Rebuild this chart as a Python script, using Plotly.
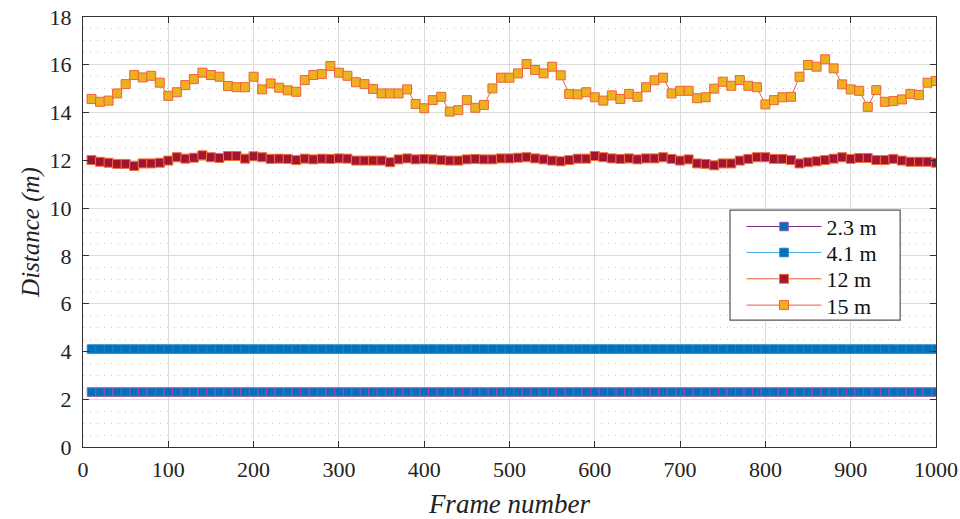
import plotly.graph_objects as go

frames = list(range(10, 1001, 10))

d_2_3 = [2.3] * 100
d_4_1 = [4.1] * 100

d_12 = [12.01, 11.94, 11.90, 11.85, 11.85, 11.76, 11.87, 11.87, 11.90, 11.99,
        12.13, 12.07, 12.11, 12.21, 12.13, 12.10, 12.18, 12.18, 12.07, 12.17,
        12.13, 12.06, 12.07, 12.06, 12.01, 12.07, 12.04, 12.07, 12.06, 12.08,
        12.07, 11.99, 11.99, 11.99, 11.99, 11.92, 12.04, 12.08, 12.04, 12.06,
        12.04, 12.01, 11.99, 11.99, 12.04, 12.06, 12.04, 12.04, 12.08, 12.08,
        12.11, 12.13, 12.08, 12.04, 11.99, 11.96, 12.01, 12.07, 12.07, 12.18,
        12.13, 12.08, 12.06, 12.08, 12.04, 12.08, 12.08, 12.13, 12.06, 11.99,
        12.04, 11.87, 11.85, 11.79, 11.87, 11.87, 11.99, 12.06, 12.13, 12.13,
        12.06, 12.06, 12.01, 11.87, 11.92, 11.96, 12.01, 12.07, 12.13, 12.06,
        12.10, 12.10, 12.01, 12.01, 12.06, 11.99, 11.94, 11.94, 11.94, 11.90]

d_15 = [14.57, 14.45, 14.50, 14.80, 15.19, 15.57, 15.47, 15.54, 15.25, 14.70,
        14.85, 15.15, 15.40, 15.67, 15.57, 15.50, 15.11, 15.06, 15.06, 15.50,
        14.97, 15.22, 15.04, 14.93, 14.87, 15.36, 15.57, 15.61, 15.95, 15.67,
        15.54, 15.27, 15.19, 14.99, 14.80, 14.80, 14.80, 14.97, 14.36, 14.18,
        14.52, 14.66, 14.04, 14.10, 14.52, 14.20, 14.32, 15.01, 15.46, 15.46,
        15.64, 16.03, 15.78, 15.64, 15.92, 15.56, 14.78, 14.76, 14.85, 14.64,
        14.50, 14.72, 14.57, 14.78, 14.66, 15.06, 15.35, 15.46, 14.80, 14.91,
        14.91, 14.60, 14.64, 15.00, 15.29, 15.12, 15.36, 15.12, 15.06, 14.34,
        14.52, 14.64, 14.66, 15.50, 15.99, 15.92, 16.23, 15.85, 15.18, 14.97,
        14.91, 14.24, 14.94, 14.45, 14.48, 14.55, 14.78, 14.74, 15.25, 15.32]

series_names = ["2.3 m", "4.1 m", "12 m", "15 m"]
x_ticks = [0, 100, 200, 300, 400, 500, 600, 700, 800, 900, 1000]
y_ticks = [0, 2, 4, 6, 8, 10, 12, 14, 16, 18]

FONT = "Liberation Serif, Times New Roman, serif"

fig = go.Figure()
fig.add_trace(go.Scatter(
    x=frames, y=d_2_3, name=series_names[0], mode="lines+markers", legend="legend",
    line=dict(color="#7E2F8E", width=1),
    marker=dict(symbol="square", size=8.5, color="#0072BD",
                line=dict(color="#9A4FB0", width=1))))
fig.add_trace(go.Scatter(
    x=frames, y=d_4_1, name=series_names[1], mode="lines+markers", legend="legend2",
    line=dict(color="#4DAEEE", width=1),
    marker=dict(symbol="square", size=8.5, color="#0072BD",
                line=dict(color="#1A80C8", width=1))))
fig.add_trace(go.Scatter(
    x=frames, y=d_12, name=series_names[2], mode="lines+markers", legend="legend3",
    line=dict(color="#E8603A", width=1),
    marker=dict(symbol="square", size=9, color="#A2142F",
                line=dict(color="#F0703A", width=1))))
fig.add_trace(go.Scatter(
    x=frames, y=d_15, name=series_names[3], mode="lines+markers", legend="legend4",
    line=dict(color="#E8603A", width=1),
    marker=dict(symbol="square", size=9, color="#EDB120",
                line=dict(color="#F0603A", width=1))))

leg_common = dict(xanchor="left", yanchor="middle", bgcolor="rgba(0,0,0,0)",
                  borderwidth=0, font=dict(family=FONT, size=22, color="#111"),
                  itemwidth=75)
leg_x = 0.772
leg_rows = [0.5123, 0.4519, 0.3907, 0.3295]

fig.update_layout(
    width=960, height=519,
    margin=dict(l=83, r=24, t=17, b=72),
    paper_bgcolor="white", plot_bgcolor="white",
    font=dict(family=FONT, size=20, color="#222"),
    showlegend=True,
    legend=dict(x=leg_x, y=leg_rows[0], **leg_common),
    legend2=dict(x=leg_x, y=leg_rows[1], **leg_common),
    legend3=dict(x=leg_x, y=leg_rows[2], **leg_common),
    legend4=dict(x=leg_x, y=leg_rows[3], **leg_common),
    shapes=[dict(type="rect", xref="paper", yref="paper",
                 x0=0.7585, x1=0.958, y0=0.295, y1=0.551,
                 fillcolor="white", line=dict(color="#555", width=1.2),
                 layer="above")],
)
fig.update_xaxes(
    range=[0, 1000], tickvals=x_ticks, automargin=False,
    showline=True, linecolor="#333", linewidth=1, mirror="ticks",
    ticks="inside", ticklen=6, tickcolor="#333", ticklabelstandoff=3,
    ticklabeloverflow="allow",
    showgrid=True, gridcolor="#dcdcdc", gridwidth=1, zeroline=False,
    tickfont=dict(family=FONT, size=22, color="#222"),
    title=dict(text="<i>Frame number</i>", font=dict(family=FONT, size=27, color="#222"), standoff=13),
)
fig.update_yaxes(
    range=[0, 18], tickvals=y_ticks, automargin=False,
    showline=True, linecolor="#333", linewidth=1, mirror="ticks",
    ticks="inside", ticklen=6, tickcolor="#333", ticklabelstandoff=6,
    ticklabeloverflow="allow",
    showgrid=True, gridcolor="#dcdcdc", gridwidth=1, zeroline=False,
    minor=dict(dtick=0.5, showgrid=True, gridcolor="#c8c8c8", griddash="1px,6px", gridwidth=1),
    tickfont=dict(family=FONT, size=22, color="#222"),
    title=dict(text="<i>Distance (m)</i>", font=dict(family=FONT, size=25, color="#222"), standoff=2),
)

fig.write_html("out.html", config={"displayModeBar": False},
               post_script="document.body.style.margin='0';")
